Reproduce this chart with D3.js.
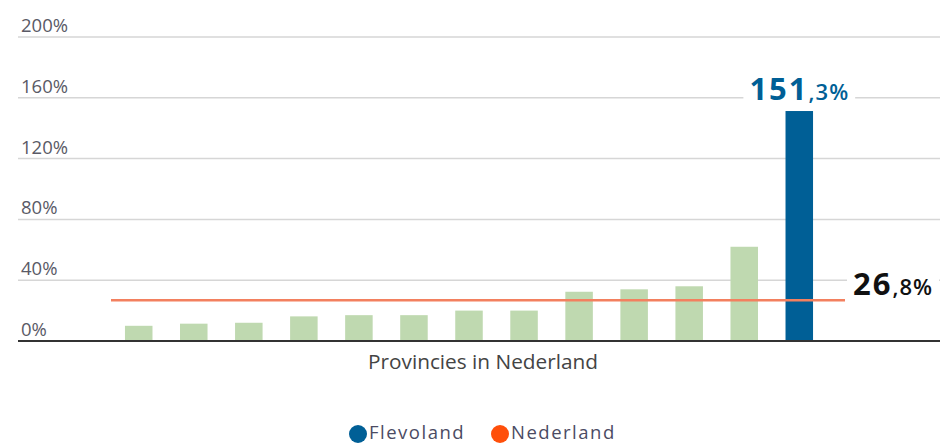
<!DOCTYPE html>
<html><head><meta charset="utf-8">
<script src="https://cdn.jsdelivr.net/npm/d3@7"></script>
<style>body{margin:0;background:#fff}svg{display:block}</style>
</head><body><svg id="c" width="940" height="445"></svg>
<script>
const provinces = ["P1","P2","P3","P4","P5","P6","P7","P8","P9","P10","P11","P12","Flevoland"];
const values = [10, 11.4, 12, 16.2, 17, 17, 20, 20, 32.4, 34, 36, 62, 151.3];
const nationalValue = 26.8;
const yTicks = [0, 40, 80, 120, 160, 200];
const legendItems = ["Flevoland", "Nederland"];

const svg = d3.select("#c");
const font = "'Open Sans', 'Noto Sans', sans-serif";
const y = d3.scaleLinear().domain([0, 200]).range([341, 37]);
const x = d3.scaleBand().domain(provinces).range([111.2, 826.8]).paddingInner(0.5).paddingOuter(0.25);

// gridlines + labels
const g = svg.append("g");
yTicks.forEach(t => {
  if (t > 0) g.append("line").attr("x1", 18).attr("x2", 940).attr("y1", y(t)).attr("y2", y(t))
    .attr("stroke", "#d6d6d6").attr("stroke-width", 1.5);
  g.append("text").attr("x", 21).attr("y", y(t) - 5).text(t + "%")
    .attr("font-family", font).attr("font-size", 18.5).attr("fill", "#5a5a66");
});

// bars
svg.append("g").selectAll("rect").data(values).join("rect")
  .attr("x", (d, i) => x(provinces[i])).attr("width", x.bandwidth())
  .attr("y", d => y(d)).attr("height", d => y(0) - y(d))
  .attr("fill", (d, i) => provinces[i] === "Flevoland" ? "#005f96" : "#bfd9b0");

// national line
svg.append("line").attr("x1", 111).attr("x2", 845).attr("y1", y(nationalValue)).attr("y2", y(nationalValue))
  .attr("stroke", "#f3805f").attr("stroke-width", 2.5);

// axis baseline
svg.append("line").attr("x1", 18).attr("x2", 940).attr("y1", y(0)).attr("y2", y(0))
  .attr("stroke", "#333").attr("stroke-width", 2);

// value labels
function label(xc, yb, big, small, color, anchor) {
  const t = svg.append("text").attr("x", xc).attr("y", yb).attr("text-anchor", anchor)
    .attr("font-family", font).attr("fill", color);
  t.append("tspan").text(big).attr("font-size", 31).attr("font-weight", 700).attr("letter-spacing", 2);
  t.append("tspan").text(small).attr("font-size", 22).attr("font-weight", 600).attr("letter-spacing", 1);
  const b = t.node().getBBox();
  svg.insert("rect", () => t.node()).attr("x", b.x - 6).attr("y", b.y + 6).attr("width", b.width + 12).attr("height", b.height - 12).attr("fill", "#fff");
}
const fl = provinces.length - 1;
label(x(provinces[fl]) + x.bandwidth() / 2, 100, "151", ",3%", "#005f96", "middle");
label(853, 295, "26", ",8%", "#111", "start");

// axis title
svg.append("text").attr("x", 483).attr("y", 369).attr("text-anchor", "middle")
  .attr("font-family", font).attr("font-size", 20.8).attr("fill", "#444").text("Provincies in Nederland");

// legend
const legColors = ["#005f96", "#ff4f0a"];
const legX = [358, 500];
legendItems.forEach((n, i) => {
  svg.append("circle").attr("cx", legX[i]).attr("cy", 434).attr("r", 9).attr("fill", legColors[i]);
  svg.append("text").attr("x", legX[i] + 11).attr("y", 439).text(n)
    .attr("font-family", font).attr("font-size", 18.5).attr("letter-spacing", 1.5).attr("fill", "#4b4b63");
});
</script></body></html>
